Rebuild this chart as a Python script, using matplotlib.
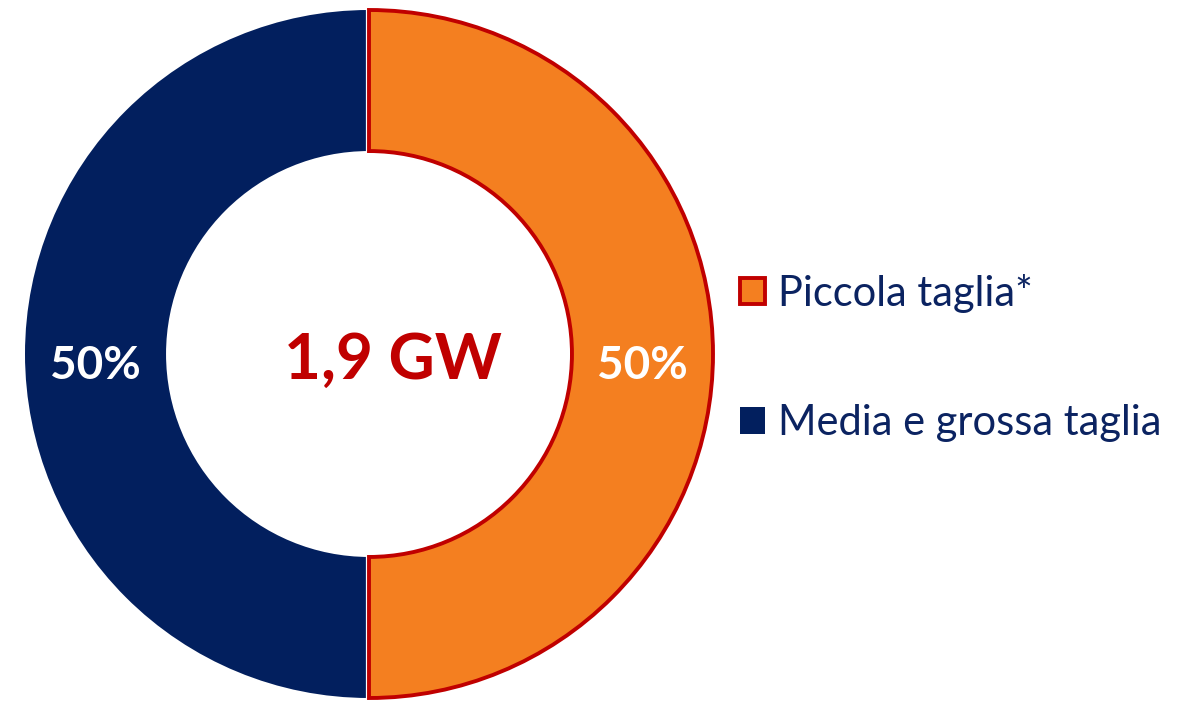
import matplotlib
matplotlib.use("Agg")
import matplotlib.pyplot as plt
import numpy as np

plt.rcParams["font.family"] = ["Lato", "DejaVu Sans"]

labels = ["Piccola taglia*", "Media e grossa taglia"]
shares = [50, 50]
total_label = "1,9 GW"

C_ORANGE = "#F47F20"
C_NAVY = "#021F5E"
C_RED = "#C00000"
C_TEXT = "#0B2361"

W, H = 1181, 703
fig = plt.figure(figsize=(W / 100, H / 100), dpi=100)
fig.patch.set_facecolor("white")

# donut centred at (369, 354) px, outer radius ~344 px
cx, cy, r = 369, 354, 344
ax = fig.add_axes([(cx - r) / W, (H - cy - r) / H, 2 * r / W, 2 * r / H])

ring = 0.41
wedges, _ = ax.pie(shares, colors=[C_ORANGE, C_NAVY], startangle=90,
                   counterclock=False, radius=1.0,
                   wedgeprops=dict(width=ring, linewidth=0))
ax.set_xlim(-1, 1)
ax.set_ylim(-1, 1)
ax.set_aspect("equal")
ax.axis("off")

# small-size slice gets a red outline
wedges[0].set_edgecolor(C_RED)
wedges[0].set_linewidth(2.8)
wedges[0].set_joinstyle("miter")
wedges[0].set_zorder(2)
# thin white seam between the slices
ax.plot([-0.006, -0.006], [1 - ring, 1], color="white", lw=1.6, zorder=1.5)
ax.plot([-0.006, -0.006], [-1, -(1 - ring)], color="white", lw=1.6, zorder=1.5)

# percentage labels at mid ring
mid = 1 - ring / 2
start = 90.0
for w, v in zip(wedges, shares):
    span = 360.0 * v / sum(shares)
    ang = np.deg2rad(start - span / 2)
    start -= span
    ax.text(mid * np.cos(ang), mid * np.sin(ang) - 0.035, f"{v:.0f}%",
            ha="center", va="center", color="white", fontsize=33,
            fontweight="bold")

ax.text(0.07, -0.02, total_label, ha="center", va="center", color=C_RED,
        fontsize=46, fontweight="bold")

leg = fig.legend(wedges, labels, loc="center left",
                 bbox_to_anchor=(740 / W, 1 - 358 / H), frameon=False,
                 borderpad=0, borderaxespad=0,
                 fontsize=30, handlelength=0.6, handleheight=0.6,
                 handletextpad=0.3, labelspacing=2.2, labelcolor=C_TEXT)

fig.savefig("out.png", dpi=100)
